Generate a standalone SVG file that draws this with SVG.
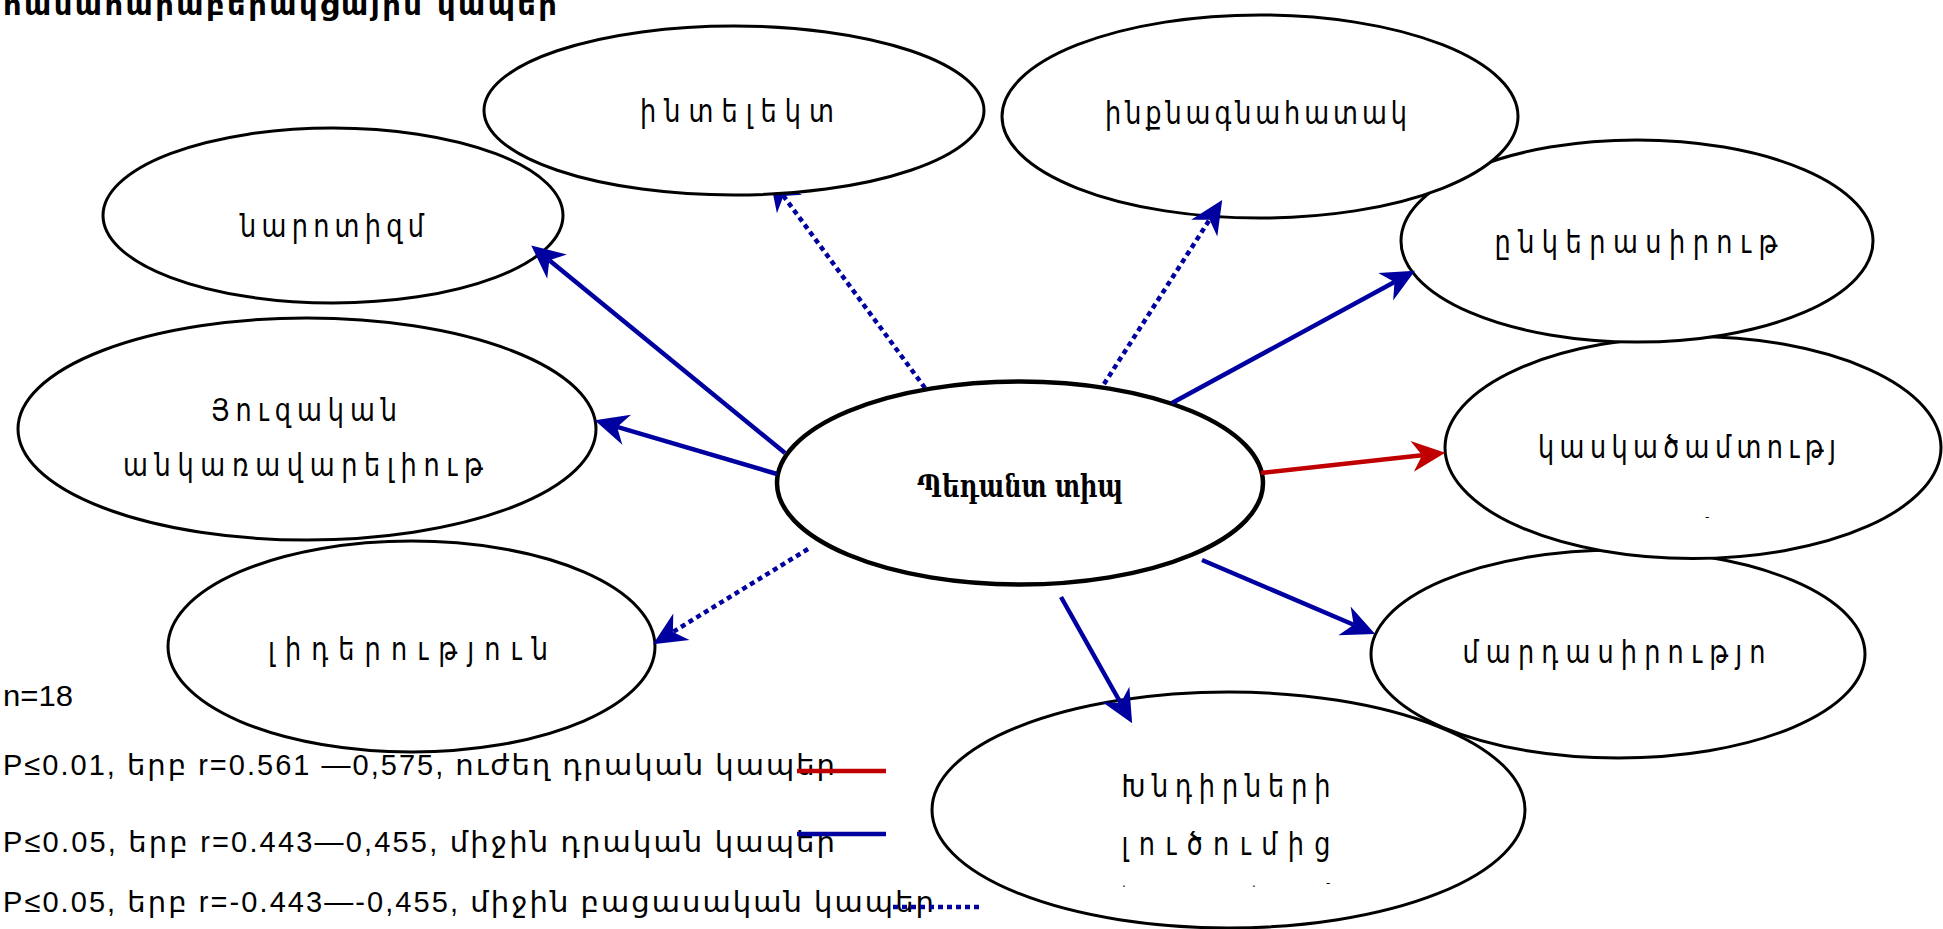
<svg xmlns="http://www.w3.org/2000/svg" width="1943" height="929" viewBox="0 0 1943 929">
<style>
.node{fill:#fff;stroke:#000;stroke-width:3}
.center{fill:#fff;stroke:#000;stroke-width:4.5}
.lbl{font-family:'DejaVu Sans','Noto Sans',sans-serif;font-size:32px;fill:#000;text-anchor:middle}
.clbl{font-family:'DejaVu Serif','DejaVu Sans',serif;font-size:31px;font-weight:bold;fill:#000;text-anchor:middle}
.leg{font-family:'Liberation Sans','DejaVu Sans',sans-serif;font-size:29px;fill:#000}
.blue{stroke:#0000a0;stroke-width:4.5;fill:none}
.red{stroke:#c00000;stroke-width:4.5;fill:none}
.dot{stroke-dasharray:5 4}
.mark{font-family:'DejaVu Sans',sans-serif;font-size:12px;fill:#000}
</style>
<defs>
<marker id="ab" markerUnits="userSpaceOnUse" markerWidth="40" markerHeight="40" viewBox="-12 -16 36 32" refX="0" refY="0" orient="auto" overflow="visible">
<path d="M21,0 L-9,-14 L0,0 L-9,14 Z" fill="#0000a0"/>
</marker>
<marker id="ar" markerUnits="userSpaceOnUse" markerWidth="40" markerHeight="40" viewBox="-12 -16 36 32" refX="0" refY="0" orient="auto" overflow="visible">
<path d="M21,0 L-9,-14 L0,0 L-9,14 Z" fill="#c00000"/>
</marker>
</defs>
<text x="3" y="15" font-family="'DejaVu Sans',sans-serif" font-weight="bold" font-size="29" textLength="554" lengthAdjust="spacing">համահարաբերակցային կապեր</text>
<g id="connectors-under">
<line class="blue dot" x1="925" y1="388" x2="783.5" y2="196" marker-end="url(#ab)"/>
</g>
<g id="n-mard">
<ellipse class="node" cx="1618" cy="654" rx="247" ry="104"/>
<text class="lbl" transform="translate(1614,663) scale(0.8,1)" textLength="378.75" lengthAdjust="spacing">մարդասիրությո</text>
</g>
<g id="n-kask">
<ellipse class="node" cx="1693" cy="447.5" rx="248" ry="111"/>
<text class="lbl" transform="translate(1687,458) scale(0.8,1)" textLength="372.5" lengthAdjust="spacing">կասկածամտությ</text>
<text class="mark" x="1705" y="521">-</text>
</g>
<g id="n-enker">
<ellipse class="node" cx="1637" cy="241" rx="236" ry="101"/>
<text class="lbl" transform="translate(1636,253) scale(0.8,1)" textLength="353.75" lengthAdjust="spacing">ընկերասիրութ</text>
</g>
<g id="n-inqn">
<ellipse class="node" cx="1260" cy="116.5" rx="258" ry="101.5"/>
<text class="lbl" transform="translate(1256,124) scale(0.8,1)" textLength="377.5" lengthAdjust="spacing">ինքնագնահատակ</text>
</g>
<g id="n-intel">
<ellipse class="node" cx="734" cy="110.5" rx="250" ry="84.5"/>
<text class="lbl" transform="translate(737,122) scale(0.8,1)" textLength="242.5" lengthAdjust="spacing">ինտելեկտ</text>
</g>
<g id="n-narc">
<ellipse class="node" cx="333" cy="215.5" rx="230" ry="87.5"/>
<text class="lbl" transform="translate(332,237) scale(0.8,1)" textLength="230" lengthAdjust="spacing">նարոտիզմ</text>
</g>
<g id="n-huz">
<ellipse class="node" cx="307" cy="429" rx="289" ry="111"/>
<text class="lbl" transform="translate(304,421) scale(0.8,1)" textLength="232.5" lengthAdjust="spacing">Յուզական</text>
<text class="lbl" transform="translate(303,476) scale(0.8,1)" textLength="450" lengthAdjust="spacing">անկառավարելիութ</text>
</g>
<g id="n-lider">
<ellipse class="node" cx="411.5" cy="646.5" rx="243.5" ry="105.5"/>
<text class="lbl" transform="translate(408,660) scale(0.8,1)" textLength="350" lengthAdjust="spacing">լիդերություն</text>
</g>
<g id="n-khndir">
<ellipse class="node" cx="1228.5" cy="810" rx="296.5" ry="118"/>
<text class="lbl" transform="translate(1226,797) scale(0.8,1)" textLength="261.25" lengthAdjust="spacing">Խնդիրների</text>
<text class="lbl" transform="translate(1226,855) scale(0.8,1)" textLength="261.25" lengthAdjust="spacing">լուծումից</text>
<text class="mark"><tspan x="1122" y="887">.</tspan><tspan x="1252" y="887">.</tspan><tspan x="1326" y="887">-</tspan></text>
</g>
<g id="n-center">
<ellipse class="center" cx="1020" cy="483" rx="243" ry="101.5"/>
<text class="clbl" x="1020" y="497" textLength="206" lengthAdjust="spacingAndGlyphs">Պեդանտ տիպ</text>
</g>
<g id="connectors">
<line class="blue" x1="785" y1="453" x2="549.3" y2="260.3" marker-end="url(#ab)"/>
<line class="blue" x1="777" y1="474" x2="617.1" y2="426.9" marker-end="url(#ab)"/>
<line class="blue dot" x1="808" y1="549" x2="672.9" y2="632" marker-end="url(#ab)"/>
<line class="blue dot" x1="1104" y1="384" x2="1209.6" y2="219.7" marker-end="url(#ab)"/>
<line class="blue" x1="1172" y1="403" x2="1394.5" y2="282" marker-end="url(#ab)"/>
<line class="red" x1="1261" y1="473" x2="1422.1" y2="455.3" marker-end="url(#ar)"/>
<line class="blue" x1="1202" y1="560" x2="1353.7" y2="624.8" marker-end="url(#ab)"/>
<line class="blue" x1="1061" y1="597" x2="1120.7" y2="703" marker-end="url(#ab)"/>
</g>
<g id="legend">
<text class="leg" x="3" y="706" textLength="70" lengthAdjust="spacingAndGlyphs">n=18</text>
<text class="leg" x="3" y="775" textLength="832" lengthAdjust="spacing">P≤0.01, երբ r=0.561 —0,575, ուժեղ դրական կապեր</text>
<text class="leg" x="3" y="852" textLength="832" lengthAdjust="spacing">P≤0.05, երբ r=0.443—0,455, միջին դրական կապեր</text>
<text class="leg" x="3" y="912" textLength="931" lengthAdjust="spacing">P≤0.05, երբ r=-0.443—-0,455, միջին բացասական կապեր</text>
<line class="red" x1="797" y1="771" x2="886" y2="771" stroke-width="5.5"/>
<line class="blue" x1="797" y1="834" x2="886" y2="834" stroke-width="5.5"/>
<line class="blue dot" x1="893" y1="907" x2="982" y2="907" stroke-width="5.5"/>
</g>
</svg>
